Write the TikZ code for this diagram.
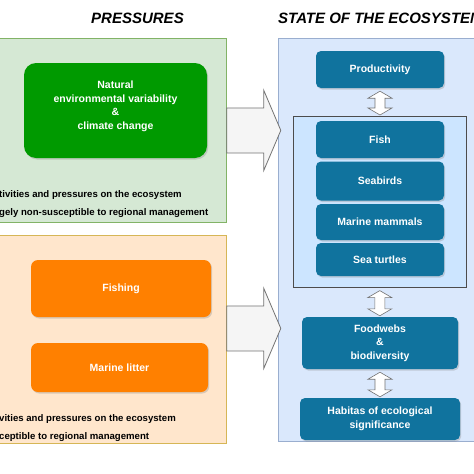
\documentclass[tikz,border=0pt]{standalone}
\usepackage{fontspec}
\setmainfont{Liberation Sans}
\usetikzlibrary{calc,shadows,positioning}
\definecolor{natbg}{HTML}{D5E8D4}
\definecolor{natline}{HTML}{82B366}
\definecolor{natfill}{HTML}{009A00}
\definecolor{humbg}{HTML}{FFE6CC}
\definecolor{humline}{HTML}{D6B656}
\definecolor{humfill}{HTML}{FF8000}
\definecolor{statebg}{HTML}{DAE8FC}
\definecolor{stateline}{HTML}{9AAECF}
\definecolor{framefill}{HTML}{CCE5FF}
\definecolor{boxfill}{HTML}{10739E}
\definecolor{arrowfill}{HTML}{F5F5F5}
\tikzset{font={\fontsize{10.5pt}{13.5pt}\selectfont\bfseries}}
\tikzstyle{panel}=[draw,anchor=north west,inner sep=0pt,line width=0.8pt]
\tikzstyle{pbox}=[rounded corners=7pt,text=white,align=center,inner sep=0pt,
  drop shadow={shadow xshift=1.2pt,shadow yshift=-1.5pt,opacity=0.3}]
\tikzstyle{ebox}=[pbox,fill=boxfill,rounded corners=5pt]
\tikzstyle{bigarrow}=[draw=black!55,fill=arrowfill,line width=0.8pt]
\tikzstyle{linkarrow}=[draw=black!55,fill=white,line width=0.6pt]
\tikzstyle{note}=[anchor=west,inner sep=0pt,font={\fontsize{9.6pt}{12pt}\selectfont\bfseries}]
\newcommand{\pressarrow}[1]{%
  \draw[bigarrow] #1 ++(0,-22.5) -- ++(37,0) -- ++(0,-17.5) -- ++(17,40)
    -- ++(-17,40) -- ++(0,-17.5) -- ++(-37,0) -- cycle;}
\newcommand{\linkdouble}[2]{%
  \draw[linkarrow] let \p1=(#1), \p2=(#2) in
    (\x1,\y1-3pt) -- (\x1+12pt,\y1-10pt) -- (\x1+5pt,\y1-10pt) -- (\x1+5pt,\y2+8pt)
    -- (\x1+12pt,\y2+8pt) -- (\x1,\y2+1pt) -- (\x1-12pt,\y2+8pt) -- (\x1-5pt,\y2+8pt)
    -- (\x1-5pt,\y1-10pt) -- (\x1-12pt,\y1-10pt) -- cycle;}

\begin{document}
\begin{tikzpicture}[x=1pt,y=-1pt]
  \useasboundingbox[fill=white] (0,0) rectangle (474,474);
  % titles
  \node[font={\fontsize{15pt}{18pt}\selectfont\bfseries\itshape}] (ttlpress) at (137.5,18) {PRESSURES};
  \node[font={\fontsize{15pt}{18pt}\selectfont\bfseries\itshape},anchor=west,inner sep=0pt] (ttlstate) at (278,18) {STATE OF THE ECOSYSTEM};
  % panels
  \node[panel,fill=natbg,draw=natline,minimum width=232,minimum height=184] (natpanel) at (-6,38) {};
  \node[panel,fill=humbg,draw=humline,minimum width=232,minimum height=208] (humpanel) at (-6,235) {};
  \node[panel,fill=statebg,draw=stateline,minimum width=210,minimum height=403] (statepanel) at (278,38) {};
  \node[panel,fill=framefill,draw=black!70,line width=0.6pt,minimum width=173,minimum height=171] (groupframe) at (293,116) {};
  % pressures
  \node[pbox,fill=natfill,rounded corners=12pt,minimum width=183,minimum height=95,
    label={[text=white,align=center,yshift=4pt]center:{Natural\\environmental variability\\\&\\climate change}}] (natvar) at (115.5,110.5) {};
  \node[pbox,fill=humfill,minimum width=180,minimum height=57] (fishing) at (121,288.5) {Fishing};
  \node[pbox,fill=humfill,minimum width=177,minimum height=49] (litter) at (119.5,367.5) {Marine litter};
  \node[note] (natnote1) at (-1,195) {tivities and pressures on the ecosystem};
  \node[note] (natnote2) at (-1,213) {gely non-susceptible to regional management};
  \node[note] (humnote1) at (-1,419) {vities and pressures on the ecosystem};
  \node[note] (humnote2) at (-1,437) {ceptible to regional management};
  % state of the ecosystem
  \node[ebox,minimum width=128,minimum height=37] (prod) at (380,69.5) {Productivity};
  \node[ebox,minimum width=128,minimum height=37] (fish) at (380,139.5) {Fish};
  \node[ebox,minimum width=128,minimum height=39] (birds) at (380,181) {Seabirds};
  \node[ebox,minimum width=128,minimum height=36] (mammals) at (380,222) {Marine mammals};
  \node[ebox,minimum width=128,minimum height=33] (turtles) at (380,259.5) {Sea turtles};
  \node[ebox,minimum width=156,minimum height=52] (foodweb) at (380,343) {Foodwebs\\\&\\biodiversity};
  \node[ebox,minimum width=160,minimum height=42] (habitat) at (380,419) {Habitas of ecological\\significance};
  % connectors
  \pressarrow{(natpanel.east)}
  \pressarrow{($(humpanel.east)+(0,-11)$)}
  \linkdouble{prod.south}{groupframe.north}
  \linkdouble{groupframe.south}{foodweb.north}
  \linkdouble{foodweb.south}{habitat.north}
\end{tikzpicture}
\end{document}
